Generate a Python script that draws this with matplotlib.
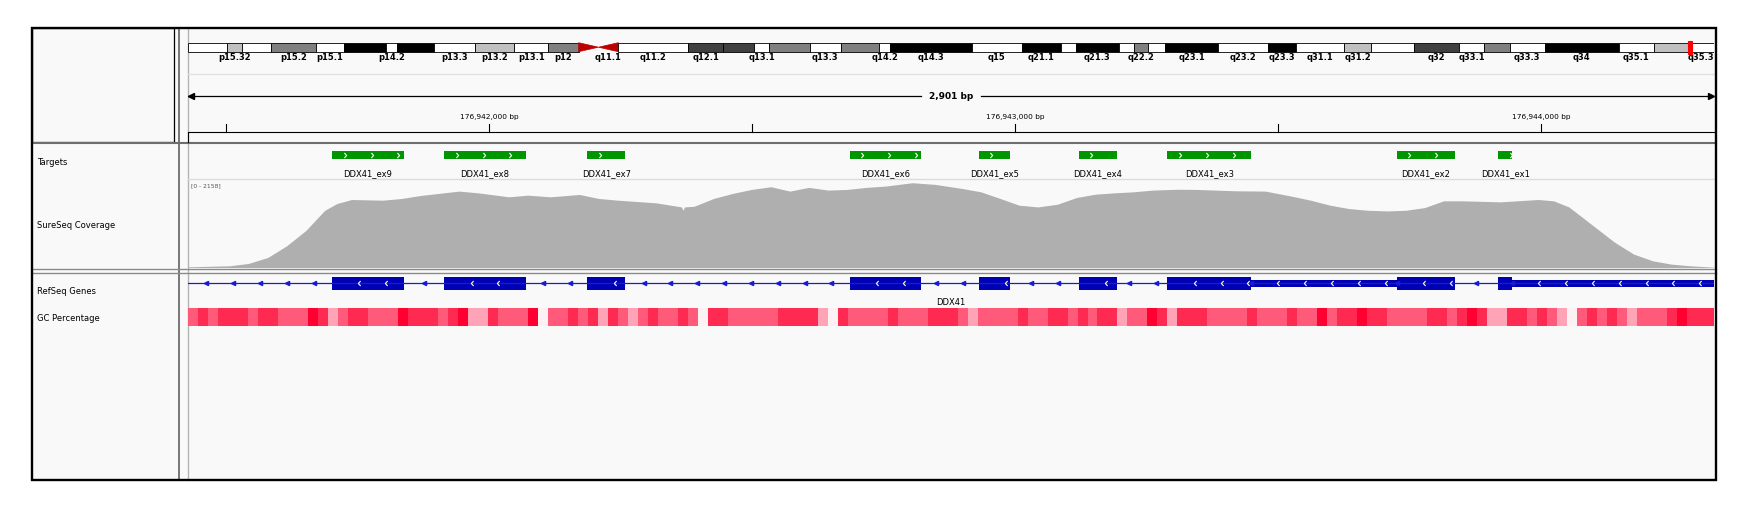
import numpy as np
import matplotlib
matplotlib.use("Agg")
import matplotlib.pyplot as plt
from matplotlib.patches import Rectangle, Polygon
from matplotlib.path import Path
from matplotlib.colors import LinearSegmentedColormap

W, H = 1756, 513

""" data read off the IGV screenshot """
# visible locus on chr5 (hg19)
region_start = 176941427
region_end = 176944328
chrom_len_mb = 181.54

# chr5 cytobands (Mb), stain and printed label
band_edges_mb = [0, 4.64, 6.41, 9.87, 15.19, 18.52, 23.53, 24.85, 29.22, 34.18, 38.78,
                 42.87, 46.47, 48.83, 51.19, 59.52, 63.64, 67.33, 69.16, 73.95, 77.68,
                 82.24, 83.51, 93.21, 99.21, 103.85, 105.59, 110.73, 112.54, 114.20, 116.28,
                 122.53, 128.51, 131.81, 137.57, 140.77, 145.85, 151.26, 154.17, 157.23,
                 161.43, 170.21, 174.40, 178.40, 181.54]
band_stain = ['gneg', 'gpos25', 'gneg', 'gpos50', 'gneg', 'gpos100', 'gneg', 'gpos100', 'gneg',
              'gpos25', 'gneg', 'gpos50', 'acen', 'acen', 'gneg', 'gpos75', 'gpos75', 'gneg',
              'gpos50', 'gneg', 'gpos50', 'gneg', 'gpos100', 'gneg', 'gpos100', 'gneg',
              'gpos100', 'gneg', 'gpos50', 'gneg', 'gpos100', 'gneg', 'gpos100', 'gneg',
              'gpos25', 'gneg', 'gpos75', 'gneg', 'gpos50', 'gneg', 'gpos100', 'gneg',
              'gpos25', 'gneg']
band_label = ['', 'p15.32', '', 'p15.2', 'p15.1', '', 'p14.2', '', 'p13.3', 'p13.2', 'p13.1',
              'p12', '', 'q11.1', 'q11.2', 'q12.1', '', 'q13.1', '', 'q13.3', '', 'q14.2',
              'q14.3', 'q15', 'q21.1', '', 'q21.3', '', 'q22.2', '', 'q23.1', 'q23.2', 'q23.3',
              'q31.1', 'q31.2', '', 'q32', 'q33.1', '', 'q33.3', 'q34', 'q35.1', '', 'q35.3']
view_mark_mb = (178.40, 178.90)

# Targets track
target_names = ['DDX41_ex9', 'DDX41_ex8', 'DDX41_ex7', 'DDX41_ex6', 'DDX41_ex5',
                'DDX41_ex4', 'DDX41_ex3', 'DDX41_ex2', 'DDX41_ex1']
target_start = [176941701, 176941914, 176942186, 176942685, 176942930,
                176943120, 176943289, 176943725, 176943918]
target_end = [176941837, 176942069, 176942258, 176942820, 176942989,
              176943193, 176943448, 176943835, 176943944]

# RefSeq gene DDX41 (minus strand)
gene_name = 'DDX41'
gene_tx = (176938578, 176944470)
utr_start = [176943448, 176943944]
utr_end = [176943725, 176944470]

# SureSeq coverage (bp offset from region start, depth)
cov_range_max = 2158
cov_offset_bp = [0, 79, 115, 152, 188, 224, 260, 283, 311, 370, 406, 442, 515, 551, 610, 646,
                 689, 744, 781, 817, 890, 938, 941, 944, 962, 999, 1035, 1071, 1108, 1144,
                 1180, 1217, 1253, 1289, 1326, 1377, 1420, 1471, 1507, 1544, 1580, 1616, 1653,
                 1689, 1725, 1762, 1798, 1834, 1882, 1918, 1990, 2048, 2098, 2134, 2171, 2207,
                 2243, 2279, 2315, 2351, 2387, 2423, 2495, 2567, 2596, 2625, 2654, 2683, 2712,
                 2748, 2784, 2820, 2856, 2901]
cov_depth = [17, 42, 100, 249, 540, 913, 1411, 1577, 1677, 1660, 1702, 1776, 1884, 1842, 1743,
             1784, 1743, 1801, 1702, 1660, 1594, 1494, 1411, 1494, 1510, 1702, 1826, 1925, 1992,
             1884, 1975, 1909, 1925, 1975, 2008, 2091, 2050, 1950, 1867, 1702, 1536, 1494, 1561,
             1726, 1809, 1842, 1867, 1909, 1930, 1925, 1892, 1884, 1759, 1660, 1536, 1453, 1411,
             1395, 1411, 1478, 1644, 1644, 1619, 1677, 1644, 1494, 1204, 913, 623, 332, 166,
             83, 42, 8]

# GC percentage, 19 bp windows from region start
gc_bin_bp = 19
gc_percent = [50, 60, 50, 60, 60, 60, 50, 60, 60, 50, 50, 50, 70, 60, 40, 50, 60, 60, 50, 50,
              50, 70, 60, 60, 60, 50, 60, 70, 40, 40, 60, 50, 50, 50, 70, 30, 50, 50, 60, 50,
              60, 40, 60, 50, 40, 50, 60, 50, 50, 60, 50,
              30, 60, 60, 50, 50, 50, 50, 50, 60, 60, 60, 60, 40, 30, 60, 50, 50, 50, 50, 60,
              50, 50, 50, 60, 60, 60, 50, 40, 50, 50, 50, 50, 60, 50, 50, 60, 60, 50, 60, 50,
              60, 60, 40, 50, 50, 70, 60, 40, 60, 60, 60,
              50, 50, 50, 50, 60, 50, 50, 50, 60, 50, 50, 70, 50, 60, 60, 70, 60, 60, 50, 50,
              50, 50, 60, 60, 50, 60, 70, 60, 40, 40, 60, 60, 50, 60, 50, 40, 30, 50, 60, 50,
              60, 50, 40, 50, 50, 50, 60, 70, 60, 60, 60]

track_names = ['Targets', 'SureSeq Coverage', 'RefSeq Genes', 'GC Percentage']

""" style """
stain_color = {'gneg': 'white', 'gpos25': '#c0c0c0', 'gpos50': '#808080',
               'gpos75': '#404040', 'gpos100': 'black'}
target_color = '#009600'
gene_color = '#0000b4'
cov_color = '#afafaf'
panel_bg = '#f9f9f9'
FONT = 'DejaVu Sans'
step_bp = 51  # strand arrow spacing

chev_r = Path([(-0.45, 1), (0.45, 0), (-0.45, -1)], [Path.MOVETO, Path.LINETO, Path.LINETO])
chev_l = Path([(0.45, 1), (-0.45, 0), (0.45, -1)], [Path.MOVETO, Path.LINETO, Path.LINETO])


def rect(x0, y0, x1, y1):
    return [x0 / W, 1 - y1 / H, (x1 - x0) / W, (y1 - y0) / H]


fig = plt.figure(figsize=(W / 100, H / 100), dpi=100)
fig.patch.set_facecolor('white')

## frame, name panel and separators (pixel units)
bg = fig.add_axes([0, 0, 1, 1])
bg.set_xlim(0, W)
bg.set_ylim(H, 0)
bg.axis('off')
bg.add_patch(Rectangle((32, 28), 1684, 452, fc=panel_bg, ec='none'))
bg.add_patch(Rectangle((32, 28), 142.5, 113.7, fill=False, ec='black', lw=0.9))
bg.plot([179.3, 179.3], [28, 480], color='#606060', lw=1.2)
bg.plot([187.7, 187.7], [28, 480], color='#b4b4b4', lw=1.0)
bg.plot([32, 1716], [142.6, 142.6], color='#6e6e6e', lw=1.5)
bg.plot([32, 1716], [268.8, 268.8], color='#8a8a8a', lw=1.0)
bg.plot([32, 1716], [272.8, 272.8], color='#8a8a8a', lw=1.0)
bg.plot([188, 1714], [74, 74], color='#e0e0e0', lw=1.0)
bg.plot([188, 1714], [179, 179], color='#dcdcdc', lw=1.0)
bg.plot([188.3, 1714], [132.3, 132.3], color='black', lw=0.8)
bg.plot([188.3, 188.3], [132.3, 141.7], color='black', lw=0.8)
for name, y in zip(track_names, [162.3, 225, 291.5, 318.3]):
    bg.text(37.5, y, name, fontsize=6, family=FONT, va='center', ha='left')
bg.text(191.5, 186, f'[0 - {cov_range_max}]', fontsize=4.3, family=FONT,
        va='center', ha='left', color='#555555')

## ideogram
axi = fig.add_axes(rect(188, 0, 1714, H))
axi.set_xlim(0, chrom_len_mb)
axi.set_ylim(H, 0)
axi.axis('off')
axi.patch.set_alpha(0)
y0, hb = 42.7, 9.0
for s, e, st, lab in zip(band_edges_mb[:-1], band_edges_mb[1:], band_stain, band_label):
    if st == 'acen':
        if lab.startswith('q'):
            pts = [(e, y0), (e, y0 + hb), (s, y0 + hb / 2)]
        else:
            pts = [(s, y0), (s, y0 + hb), (e, y0 + hb / 2)]
        axi.add_patch(Polygon(pts, closed=True, fc='#bb0000', ec='#bb0000', lw=0.5))
    else:
        axi.add_patch(Rectangle((s, y0), e - s, hb, fc=stain_color[st], ec='black', lw=0.6))
    if lab:
        axi.text((s + e) / 2, 57.3, lab, fontsize=6, weight='bold', family=FONT,
                 ha='center', va='center', clip_on=True)
axi.add_patch(Rectangle((view_mark_mb[0], 40.7), view_mark_mb[1] - view_mark_mb[0], 13.3,
                        fc='red', ec='red', lw=0.8))

## genomic data axes (x in bp, y in pixel rows)
ax = fig.add_axes(rect(188, 0, 1714, H))
ax.set_xlim(region_start, region_end)
ax.set_ylim(H, 0)
ax.axis('off')
ax.patch.set_alpha(0)
bp_per_px = (region_end - region_start) / 1526.0

# ruler
mid = (region_start + region_end) / 2
gap = 30 * bp_per_px
ax.plot([region_start, mid - gap], [96.3, 96.3], color='black', lw=0.9)
ax.plot([mid + gap, region_end], [96.3, 96.3], color='black', lw=0.9)
ax.plot(region_start + 3 * bp_per_px, 96.3, marker='<', ms=4.5, color='black', clip_on=False)
ax.plot(region_end - 3 * bp_per_px, 96.3, marker='>', ms=4.5, color='black', clip_on=False)
ax.text(mid, 96.8, f'{region_end - region_start:,} bp', fontsize=6.5, weight='bold',
        family=FONT, ha='center', va='center')
first_tick = (region_start // 500 + 1) * 500
for t in range(first_tick, region_end, 500):
    ax.plot([t, t], [124, 131.7], color='black', lw=0.8)
    if t % 1000 == 0:
        ax.text(t, 116.7, f'{t:,} bp', fontsize=5.3, family=FONT, ha='center', va='center')

# targets
for name, s, e in zip(target_names, target_start, target_end):
    ax.add_patch(Rectangle((s, 150.7), e - s, 8.3, fc=target_color, ec='none'))
    xs = np.arange(s + 24, e - 1, step_bp)
    ax.plot(xs, np.full(len(xs), 154.85), ls='none', marker=chev_r, ms=3.6,
            mfc='none', mec='white', mew=0.8)
    ax.text((s + e) / 2, 173.7, name, fontsize=6, family=FONT, ha='center', va='center')

# gene model
ax.plot([max(gene_tx[0], region_start), min(gene_tx[1], region_end)], [283.3, 283.3],
        color='#1a1ad0', lw=0.9)
blocks = sorted([(s, e, 13.3) for s, e in zip(target_start, target_end)] +
                [(s, e, 7.0) for s, e in zip(utr_start, utr_end)])
for s, e, h in blocks:
    ax.add_patch(Rectangle((s, 283.3 - h / 2), e - s, h, fc=gene_color, ec='none'))
    xs = np.arange(s + 52, min(e, region_end) - 3, step_bp)
    ax.plot(xs, np.full(len(xs), 283.3), ls='none', marker=chev_l, ms=3.6,
            mfc='none', mec='white', mew=0.8)
# intron arrows, centred in each gap
edges = [region_start] + [v for s, e, h in blocks for v in (s, e)]
for a, b in zip(edges[0::2], edges[1::2]):
    n = max(1, int((b - a) / step_bp + 0.2))
    xs = (a + b) / 2 + (np.arange(n) - (n - 1) / 2) * step_bp
    ax.plot(xs, np.full(n, 283.3), ls='none', marker='<', ms=3, color='#1a1ad0')
ax.text(mid, 302.3, gene_name, fontsize=6, family=FONT, ha='center', va='center')

# GC percentage heat strip
gc_cmap = LinearSegmentedColormap.from_list(
    'gc', [(0, '#fdf1f4'), (0.25, '#ffa3b6'), (0.5, '#ff5a7a'), (0.75, '#ff2a52'), (1, '#ff0030')])
gx = region_start + np.arange(len(gc_percent) + 1) * gc_bin_bp
ax.pcolormesh(gx, [308.3, 326.0], np.array(gc_percent)[None, :], cmap=gc_cmap,
              vmin=30, vmax=70, shading='flat')
ax.set_xlim(region_start, region_end)
ax.set_ylim(H, 0)

## coverage
axc = fig.add_axes(rect(188, 180, 1714, 267.5))
axc.set_xlim(region_start, region_end)
axc.set_ylim(0, cov_range_max)
axc.axis('off')
axc.patch.set_alpha(0)
cx = region_start + np.array(cov_offset_bp)
axc.fill_between(cx, cov_depth, color=cov_color, lw=0)

# outer frame on top
bg2 = fig.add_axes([0, 0, 1, 1])
bg2.set_xlim(0, W)
bg2.set_ylim(H, 0)
bg2.axis('off')
bg2.patch.set_alpha(0)
bg2.add_patch(Rectangle((32, 28), 1684, 452, fill=False, ec='black', lw=1.7))

fig.savefig('out.png', dpi=100, facecolor='white')
